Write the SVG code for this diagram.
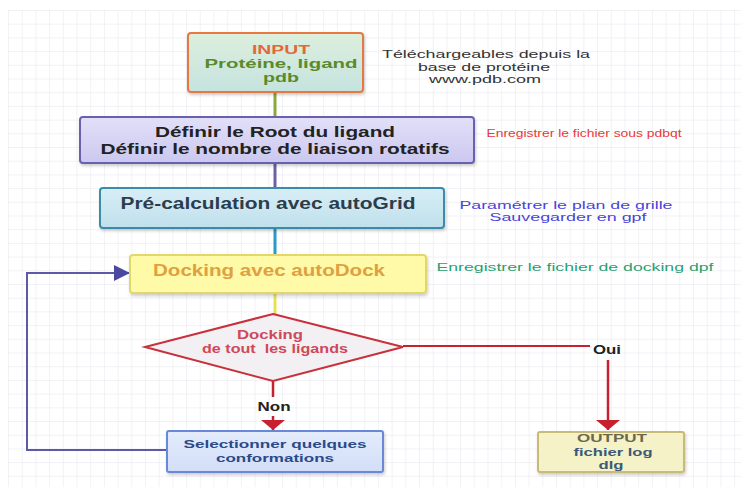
<svg xmlns="http://www.w3.org/2000/svg" width="746" height="490" viewBox="0 0 746 490">
<defs>
<pattern id="grid" x="8" y="10" width="13.7" height="13.7" patternUnits="userSpaceOnUse">
<path d="M0 0H13.7M0 0V13.7" fill="none" stroke="#e6e6ee" stroke-width="1"/>
</pattern>
<linearGradient id="gIn" x1="0" y1="0" x2="0" y2="1"><stop offset="0" stop-color="#dcefdc"/><stop offset="1" stop-color="#c6e3e0"/></linearGradient>
<linearGradient id="gDef" x1="0" y1="0" x2="0" y2="1"><stop offset="0" stop-color="#e2e0f8"/><stop offset="1" stop-color="#cbc8f0"/></linearGradient>
<linearGradient id="gGrid" x1="0" y1="0" x2="0" y2="1"><stop offset="0" stop-color="#d8eef6"/><stop offset="1" stop-color="#bfe0ec"/></linearGradient>
<linearGradient id="gSel" x1="0" y1="0" x2="0" y2="1"><stop offset="0" stop-color="#e4ecfc"/><stop offset="1" stop-color="#d2def8"/></linearGradient>
<filter id="sh" x="-5%" y="-10%" width="110%" height="130%"><feDropShadow dx="1" dy="2" stdDeviation="1.5" flood-color="#000" flood-opacity="0.2"/></filter>
<marker id="redArrow" markerWidth="10" markerHeight="24" refX="10" refY="12" orient="auto" markerUnits="userSpaceOnUse" viewBox="0 0 10 24">
<path d="M0 0L10 12L0 24Z" fill="#c8202e"/>
</marker>
<marker id="blueArrow" markerWidth="16" markerHeight="16" refX="16" refY="8" orient="auto" markerUnits="userSpaceOnUse" viewBox="0 0 16 16">
<path d="M0 0L16 8L0 16Z" fill="#4a48a0"/>
</marker>
</defs>
<style>
text{font-family:"Liberation Sans",Arial,sans-serif;text-anchor:middle}
.b{font-weight:bold}
.note{font-size:11px}
.box{stroke-width:2}
.conn{fill:none}
</style>
<rect width="746" height="490" fill="#ffffff"/>
<rect x="8" y="10" width="733" height="477" fill="url(#grid)"/>

<g id="connectors">
<line x1="275" y1="92" x2="275" y2="117" stroke="#8aa83a" stroke-width="3"/>
<line x1="275" y1="163" x2="275" y2="188" stroke="#6a60a8" stroke-width="3"/>
<line x1="275" y1="228" x2="275" y2="255" stroke="#2a98c8" stroke-width="3"/>
<line x1="275" y1="293" x2="275" y2="315" stroke="#e8e050" stroke-width="3"/>
<line x1="273" y1="381" x2="273" y2="397" stroke="#c8202e" stroke-width="2.5"/>
<line x1="273" y1="416" x2="273" y2="430" stroke="#c8202e" stroke-width="2.5" marker-end="url(#redArrow)"/>
<polyline class="conn" points="403,346 590,346" stroke="#c8202e" stroke-width="2"/>
<line x1="608" y1="360" x2="608" y2="430" stroke="#c8202e" stroke-width="2.5" marker-end="url(#redArrow)"/>
<polyline class="conn" points="167,450 27,450 27,273 130,273" stroke="#5a5aa8" stroke-width="2" marker-end="url(#blueArrow)"/>
<text x="274" y="411" class="b" font-size="12" fill="#222" textLength="33" lengthAdjust="spacingAndGlyphs">Non</text>
<text x="607" y="354" class="b" font-size="12" fill="#222" textLength="28" lengthAdjust="spacingAndGlyphs">Oui</text>
</g>

<g id="input">
<rect x="188" y="33" width="175" height="59" rx="3" fill="url(#gIn)" stroke="#e87840" class="box" filter="url(#sh)"/>
<text x="281" y="53.5" class="b" font-size="12.5" fill="#e2683a" textLength="58" lengthAdjust="spacingAndGlyphs">INPUT</text>
<text x="281" y="67.5" class="b" font-size="12.5" fill="#5a8a2a" textLength="153" lengthAdjust="spacingAndGlyphs">Protéine, ligand</text>
<text x="281" y="81.5" class="b" font-size="12.5" fill="#5a8a2a" textLength="36" lengthAdjust="spacingAndGlyphs">pdb</text>
</g>
<g id="note-input">
<text x="486" y="58" class="note" fill="#333" textLength="208" lengthAdjust="spacingAndGlyphs">Téléchargeables depuis la</text>
<text x="484" y="71" class="note" fill="#333" textLength="132" lengthAdjust="spacingAndGlyphs">base de protéine</text>
<text x="485" y="83" class="note" fill="#333" textLength="112" lengthAdjust="spacingAndGlyphs">www.pdb.com</text>
</g>

<g id="definir">
<rect x="80" y="117" width="394" height="46" rx="3" fill="url(#gDef)" stroke="#6a60b0" class="box" filter="url(#sh)"/>
<text x="275" y="137" class="b" font-size="15" fill="#222" textLength="240" lengthAdjust="spacingAndGlyphs">Définir le Root du ligand</text>
<text x="275" y="154" class="b" font-size="15" fill="#222" textLength="349" lengthAdjust="spacingAndGlyphs">Définir le nombre de liaison rotatifs</text>
</g>
<g id="note-definir">
<text x="584" y="137" class="note" fill="#e83838" textLength="195" lengthAdjust="spacingAndGlyphs">Enregistrer le fichier sous pdbqt</text>
</g>

<g id="autogrid">
<rect x="100" y="188" width="344" height="40" rx="3" fill="url(#gGrid)" stroke="#3a8ca8" class="box" filter="url(#sh)"/>
<text x="268" y="209" class="b" font-size="16" fill="#2c3c4c" textLength="295" lengthAdjust="spacingAndGlyphs">Pré-calculation avec autoGrid</text>
</g>
<g id="note-autogrid">
<text x="566" y="209" class="note" fill="#4a44d8" textLength="213" lengthAdjust="spacingAndGlyphs">Paramétrer le plan de grille</text>
<text x="568" y="221" class="note" fill="#4a44d8" textLength="157" lengthAdjust="spacingAndGlyphs">Sauvegarder en gpf</text>
</g>

<g id="autodock">
<rect x="130" y="255" width="296" height="38" rx="3" fill="#fffaa8" stroke="#e2d86a" class="box" filter="url(#sh)"/>
<text x="269" y="276" class="b" font-size="16" fill="#e0a040" textLength="232" lengthAdjust="spacingAndGlyphs">Docking avec autoDock</text>
</g>
<g id="note-autodock">
<text x="575" y="271" class="note" fill="#2aa070" textLength="277" lengthAdjust="spacingAndGlyphs">Enregistrer le fichier de docking dpf</text>
</g>

<g id="decision">
<polygon points="273,314 403,347 273,381 145,347" fill="#f2f0f2" stroke="#c8303c" stroke-width="2"/>
<text x="270" y="339" class="b" font-size="12.5" fill="#d04858" textLength="66" lengthAdjust="spacingAndGlyphs">Docking</text>
<text x="275" y="353" class="b" font-size="12.5" fill="#d04858" xml:space="preserve" textLength="146" lengthAdjust="spacingAndGlyphs">de tout  les ligands</text>
</g>

<g id="selection">
<rect x="167" y="431" width="216" height="41" rx="2" fill="url(#gSel)" stroke="#6a88d8" class="box" filter="url(#sh)"/>
<text x="275" y="448" class="b" font-size="11.5" fill="#2a4a8a" textLength="183" lengthAdjust="spacingAndGlyphs">Selectionner quelques</text>
<text x="275" y="462" class="b" font-size="11.5" fill="#2a4a8a" textLength="118" lengthAdjust="spacingAndGlyphs">conformations</text>
</g>

<g id="output">
<rect x="538" y="432" width="146" height="40" rx="2" fill="#f6f2c8" stroke="#c8ba78" class="box" filter="url(#sh)"/>
<text x="612" y="442" class="b" font-size="11.5" fill="#6a6a4a" textLength="70" lengthAdjust="spacingAndGlyphs">OUTPUT</text>
<text x="613" y="456" class="b" font-size="11.5" fill="#3a5a78" textLength="79" lengthAdjust="spacingAndGlyphs">fichier log</text>
<text x="611" y="469" class="b" font-size="11.5" fill="#3a5a78" textLength="25" lengthAdjust="spacingAndGlyphs">dlg</text>
</g>
</svg>
